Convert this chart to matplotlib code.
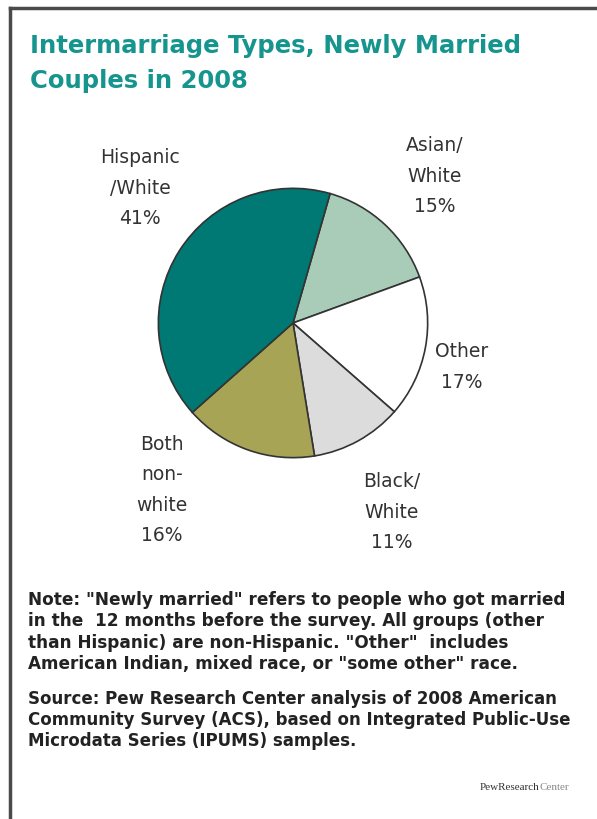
import matplotlib.pyplot as plt
from matplotlib.lines import Line2D

# intermarriage shares, clockwise from top
types = ['Asian/\nWhite', 'Other', 'Black/\nWhite', 'Both\nnon-\nwhite', 'Hispanic\n/White']
shares = [15, 17, 11, 16, 41]
colors = ['#a8ccb7', '#ffffff', '#dcdcdc', '#a7a455', '#007874']

W, H = 597, 819
fig = plt.figure(figsize=(W / 100, H / 100), dpi=100)

def px(x, y):
    return x / W, 1 - y / H

# frame lines (top and left)
fig.add_artist(Line2D([10 / W, 1], [1 - 8 / H, 1 - 8 / H], color='#4a4a4a', lw=2.5))
fig.add_artist(Line2D([10 / W, 10 / W], [0, 1 - 8 / H], color='#4a4a4a', lw=2.5))

teal = '#16958e'
fig.text(*px(30, 46), 'Intermarriage Types, Newly Married', color=teal,
         fontsize=17.5, fontweight='bold', va='center', ha='left')
fig.text(*px(30, 81), 'Couples in 2008', color=teal,
         fontsize=17.5, fontweight='bold', va='center', ha='left')

# pie
cx, cy, r = 293, 323, 136
ax = fig.add_axes([(cx - r) / W, 1 - (cy + r) / H, 2 * r / W, 2 * r / H])
ax.pie(shares, colors=colors, startangle=74, counterclock=False,
       wedgeprops=dict(edgecolor='#333333', linewidth=1.2))
ax.set_xlim(-1.01, 1.01)
ax.set_ylim(-1.01, 1.01)
ax.axis('off')

# slice labels
label_pos = [(435, 176), (462, 367), (392, 512), (162, 490), (140, 188)]
for t, s, (lx, ly) in zip(types, shares, label_pos):
    fig.text(*px(lx, ly), f'{t}\n{s}%', ha='center', va='center',
             fontsize=13.5, color='#333333', linespacing=1.76)

note = ('Note: "Newly married" refers to people who got married\n'
        'in the  12 months before the survey. All groups (other\n'
        'than Hispanic) are non-Hispanic. "Other"  includes\n'
        'American Indian, mixed race, or "some other" race.')
source = ('Source: Pew Research Center analysis of 2008 American\n'
          'Community Survey (ACS), based on Integrated Public-Use\n'
          'Microdata Series (IPUMS) samples.')
fig.text(*px(28, 632), note, ha='left', va='center', fontsize=12.2,
         fontweight='bold', color='#222222', linespacing=1.23)
fig.text(*px(28, 720), source, ha='left', va='center', fontsize=12.0,
         fontweight='bold', color='#222222', linespacing=1.25)

# logo: dark "PewResearch" followed by grey "Center"
t1 = fig.text(*px(480, 787), 'PewResearch', ha='left', va='center', fontsize=8,
              family='Liberation Serif', color='#333333')
fig.canvas.draw()
x_end = t1.get_window_extent().x1 / W
fig.text(x_end, 1 - 787 / H, 'Center', ha='left', va='center', fontsize=8,
         family='Liberation Serif', color='#888888')

fig.savefig('out.png', dpi=100, facecolor='white')
